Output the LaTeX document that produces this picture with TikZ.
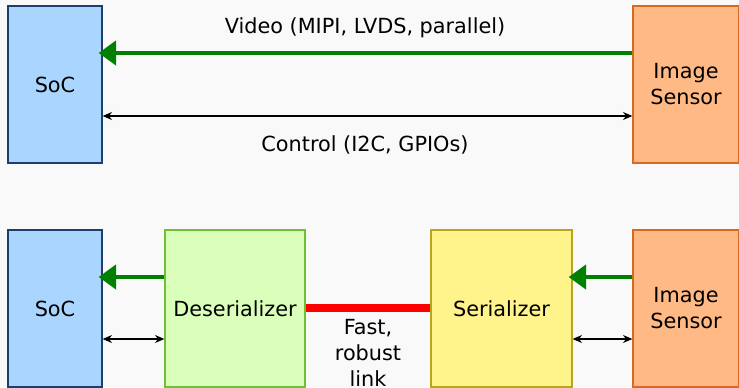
\documentclass[tikz,border=0pt]{standalone}
\usepackage{fontspec}
\setmainfont{DejaVu Sans}
\usetikzlibrary{arrows.meta}
\definecolor{socfill}{HTML}{AAD5FF}
\definecolor{socline}{HTML}{1E3F6E}
\definecolor{desfill}{HTML}{DAFFBA}
\definecolor{desline}{HTML}{6CC034}
\definecolor{serfill}{HTML}{FFF38C}
\definecolor{serline}{HTML}{B5A61E}
\definecolor{senfill}{HTML}{FFB985}
\definecolor{senline}{HTML}{D66A22}
\definecolor{vidgreen}{HTML}{008000}
\definecolor{bgcol}{HTML}{F9F9F9}
\begin{document}
\begin{tikzpicture}[x=0.75pt,y=-0.75pt]

    \tikzset{
      block/.style={
        draw,
        line width=1pt,
        inner sep=0pt,
        align=center,
        font=\fontsize{15.6}{19.5}\selectfont,
        minimum height=117.75pt,
      },
      soc/.style={block, fill=socfill, draw=socline, minimum width=70.5pt},
      sensor/.style={block, fill=senfill, draw=senline, minimum width=79.5pt},
      deser/.style={block, fill=desfill, draw=desline, minimum width=105pt},
      ser/.style={block, fill=serfill, draw=serline, minimum width=105.75pt},
      video/.style={draw=vidgreen, line width=3pt, shorten >=-3pt, -{Triangle[length=13pt,width=18pt]}},
      ctrl/.style={draw=black, line width=0.8pt, {Stealth[length=7pt,width=6pt]}-{Stealth[length=7pt,width=6pt]}},
      link/.style={draw=red, line width=5.5pt},
      label/.style={font=\fontsize{15.6}{19.5}\selectfont, inner sep=0pt, align=center},
    }
    \path[use as bounding box, fill=bgcol] (0,0) rectangle (739,387);
    \clip (0,0) rectangle (739,387);

    % direct connection
    \node[soc] (soc1) at (55,84.5) {SoC};
    \node[sensor] (sensor1) at (686,84.5) {Image\\Sensor};
    \draw[video] (sensor1.west |- 0,53) -- (soc1.east |- 0,53);
    \draw[ctrl] (soc1.east |- 0,116) -- (sensor1.west |- 0,116);
    \node[label] (vidtext) at (365,28) {Video (MIPI, LVDS, parallel)};
    \node[label] (ctrltext) at (365,145) {Control (I2C, GPIOs)};

    % serdes connection
    \node[soc] (soc2) at (55,308.5) {SoC};
    \node[deser] (deser) at (235,308.5) {Deserializer};
    \node[ser] (ser) at (501.5,308.5) {Serializer};
    \node[sensor] (sensor2) at (686,308.5) {Image\\Sensor};
    \draw[video] (deser.west |- 0,277) -- (soc2.east |- 0,277);
    \draw[video] (sensor2.west |- 0,277) -- (ser.east |- 0,277);
    \draw[ctrl] (soc2.east |- 0,339) -- (deser.west |- 0,339);
    \draw[ctrl] (ser.east |- 0,339) -- (sensor2.west |- 0,339);
    \draw[link] (deser.east |- 0,308) -- (ser.west |- 0,308);
    \node[label, anchor=north] (linktext) at (368,319) {Fast,\\robust\\link};

\end{tikzpicture}
\end{document}
